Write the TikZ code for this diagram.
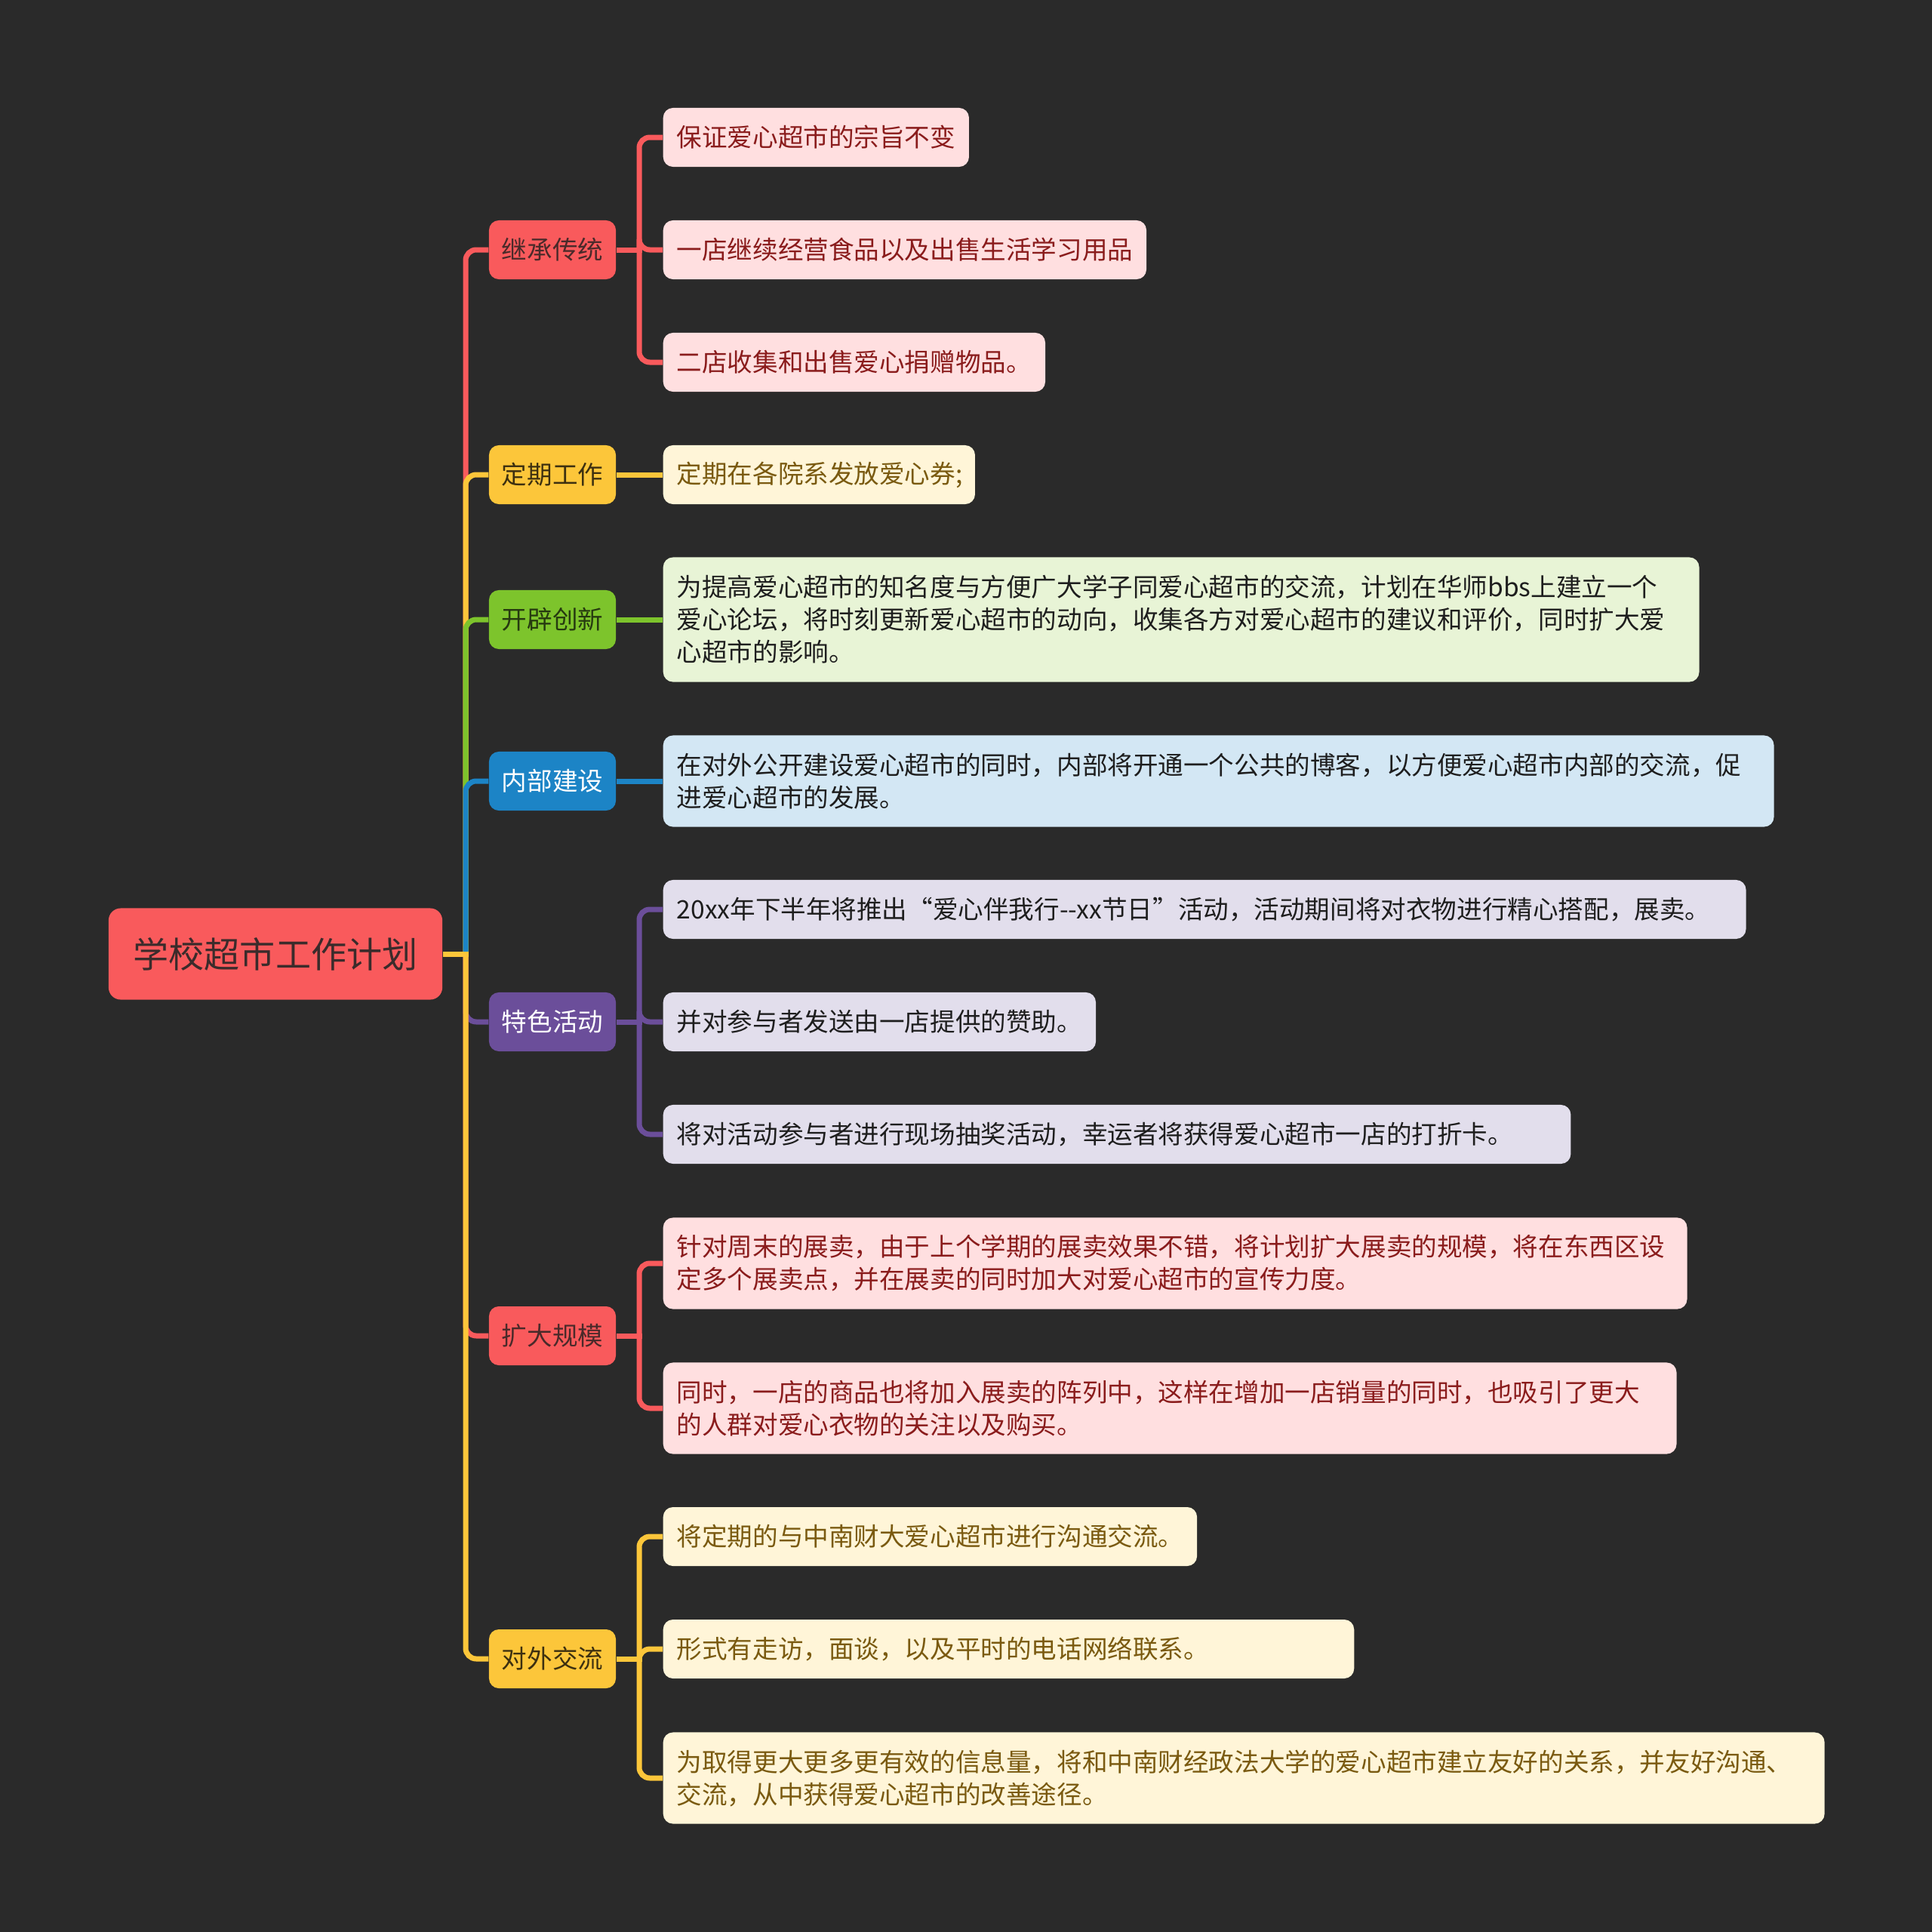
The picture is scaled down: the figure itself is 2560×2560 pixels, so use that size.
\documentclass[tikz,border=0pt]{standalone}
\usepackage{fontspec}
\newfontfamily\cjk{Noto Sans CJK SC}
\definecolor{bgc}{HTML}{2A2A2A}
\definecolor{cRed}{HTML}{F95A5C}
\definecolor{cYel}{HTML}{FCC63A}
\definecolor{cGrn}{HTML}{7DC42C}
\definecolor{cBlu}{HTML}{1C84C6}
\definecolor{cPur}{HTML}{6B4E9A}
\definecolor{fPink}{HTML}{FFDFE0}
\definecolor{fYel}{HTML}{FFF5D8}
\definecolor{fGrn}{HTML}{E8F4D6}
\definecolor{fBlu}{HTML}{D3E7F4}
\definecolor{fPur}{HTML}{E2DEEC}
\definecolor{tRed}{HTML}{8A1C1C}
\definecolor{tYel}{HTML}{7A5A10}
\definecolor{tDark}{HTML}{1E1E1E}
\definecolor{tRoot}{HTML}{3B2B2B}
\definecolor{tL1Red}{HTML}{4A2A2A}
\definecolor{tL1Yel}{HTML}{3D3010}
\definecolor{tL1Grn}{HTML}{263A10}
\begin{document}
\begin{tikzpicture}[x=0.01cm,y=-0.01cm,
  rootbox/.style={fill=cRed, rounded corners=0.16cm, minimum width=4.42cm, minimum height=1.21cm, inner sep=0pt, text=tRoot, font=\cjk\fontsize{13.4pt}{16pt}\selectfont},
  lone/.style={rounded corners=0.13cm, minimum width=1.68cm, minimum height=0.78cm, inner sep=0pt, font=\cjk\fontsize{9.55pt}{12.23pt}\selectfont},
  ltwo/.style={rounded corners=0.13cm, anchor=west, inner xsep=0.18cm, inner ysep=0pt, align=left, font=\cjk\fontsize{9.55pt}{12.23pt}\selectfont},
  oneln/.style={minimum height=0.78cm},
  twoln/.style={minimum height=1.21cm},
  threeln/.style={minimum height=1.65cm},
  conn/.style={line width=0.07cm},
  elbow/.style={line width=0.07cm, rounded corners=0.14cm}
]
\fill[bgc] (0,0) rectangle (2560,2560);

% root
\node[rootbox] (root) at (365,1264) {学校超市工作计划};
\coordinate (trunk) at (617,1264);

% level 1
\node[lone, fill=cRed, text=tL1Red] (a1) at (732,331) {继承传统};
\node[lone, fill=cYel, text=tL1Yel] (a2) at (732,629) {定期工作};
\node[lone, fill=cGrn, text=tL1Grn] (a3) at (732,821) {开辟创新};
\node[lone, fill=cBlu, text=white] (a4) at (732,1035) {内部建设};
\node[lone, fill=cPur, text=white] (a5) at (732,1354) {特色活动};
\node[lone, fill=cRed, text=tL1Red] (a6) at (732,1770) {扩大规模};
\node[lone, fill=cYel, text=tL1Yel] (a7) at (732,2198) {对外交流};

\coordinate (h1) at (847,331);
\coordinate (h2) at (847,629);
\coordinate (h3) at (847,821);
\coordinate (h4) at (847,1035);
\coordinate (h5) at (847,1354);
\coordinate (h6) at (847,1770);
\coordinate (h7) at (847,2198);

% level 2
\node[ltwo, oneln, fill=fPink, text=tRed, minimum width=4.05cm, text width=3.69cm] (c11) at (878,182) {保证爱心超市的宗旨不变};
\node[ltwo, oneln, fill=fPink, text=tRed, minimum width=6.40cm, text width=6.04cm] (c12) at (878,331) {一店继续经营食品以及出售生活学习用品};
\node[ltwo, oneln, fill=fPink, text=tRed, minimum width=5.06cm, text width=4.70cm] (c13) at (878,480) {二店收集和出售爱心捐赠物品。};

\node[ltwo, oneln, fill=fYel, text=tYel, minimum width=4.13cm, text width=3.77cm] (c21) at (878,629) {定期在各院系发放爱心券;};

\node[ltwo, threeln, fill=fGrn, text=tDark, minimum width=13.72cm, text width=13.36cm] (c31) at (878,821) {为提高爱心超市的知名度与方便广大学子同爱心超市的交流，计划在华师bbs上建立一个\\爱心论坛，将时刻更新爱心超市的动向，收集各方对爱心超市的建议和评价，同时扩大爱\\心超市的影响。};

\node[ltwo, twoln, fill=fBlu, text=tDark, minimum width=14.71cm, text width=14.35cm] (c41) at (878,1035) {在对外公开建设爱心超市的同时，内部将开通一个公共的博客，以方便爱心超市内部的交流，促\\进爱心超市的发展。};

\node[ltwo, oneln, fill=fPur, text=tDark, minimum width=14.34cm, text width=13.98cm] (c51) at (878,1205) {20xx年下半年将推出“爱心伴我行-\kern0pt-xx节日”活动，活动期间将对衣物进行精心搭配，展卖。};
\node[ltwo, oneln, fill=fPur, text=tDark, minimum width=5.73cm, text width=5.37cm] (c52) at (878,1354) {并对参与者发送由一店提供的赞助。};
\node[ltwo, oneln, fill=fPur, text=tDark, minimum width=12.02cm, text width=11.66cm] (c53) at (878,1503) {将对活动参与者进行现场抽奖活动，幸运者将获得爱心超市一店的打折卡。};

\node[ltwo, twoln, fill=fPink, text=tRed, minimum width=13.56cm, text width=13.20cm] (c61) at (878,1674) {针对周末的展卖，由于上个学期的展卖效果不错，将计划扩大展卖的规模，将在东西区设\\定多个展卖点，并在展卖的同时加大对爱心超市的宣传力度。};
\node[ltwo, twoln, fill=fPink, text=tRed, minimum width=13.42cm, text width=13.06cm] (c62) at (878,1866) {同时，一店的商品也将加入展卖的阵列中，这样在增加一店销量的同时，也吸引了更大\\的人群对爱心衣物的关注以及购买。};

\node[ltwo, oneln, fill=fYel, text=tYel, minimum width=7.07cm, text width=6.71cm] (c71) at (878,2036) {将定期的与中南财大爱心超市进行沟通交流。};
\node[ltwo, oneln, fill=fYel, text=tYel, minimum width=9.15cm, text width=8.79cm] (c72) at (878,2185) {形式有走访，面谈，以及平时的电话网络联系。};
\node[ltwo, twoln, fill=fYel, text=tYel, minimum width=15.38cm, text width=15.02cm] (c73) at (878,2356) {为取得更大更多更有效的信息量，将和中南财经政法大学的爱心超市建立友好的关系，并友好沟通、\\交流，从中获得爱心超市的改善途径。};

% root to level 1
\draw[elbow, cRed] (trunk) |- (a1.west);
\draw[elbow, cYel] (trunk) |- (a2.west);
\draw[elbow, cGrn] (trunk) |- (a3.west);
\draw[elbow, cBlu] (trunk) |- (a4.west);
\draw[elbow, cPur] (trunk) |- (a5.west);
\draw[elbow, cRed] (trunk) |- (a6.west);
\draw[elbow, cYel] (trunk) |- (a7.west);
\draw[conn, cYel] (root.east) -- ([xshift=0.035cm]trunk);

% level 1 to level 2
\draw[conn, cRed] (a1.east) -- ([xshift=0.035cm]h1);
\draw[elbow, cRed] (h1) |- (c11.west);
\draw[elbow, cRed] (h1) |- (c12.west);
\draw[elbow, cRed] (h1) |- (c13.west);

\draw[conn, cYel] (a2.east) -- (h2) -- (c21.west);
\draw[conn, cGrn] (a3.east) -- (h3) -- (c31.west);
\draw[conn, cBlu] (a4.east) -- (h4) -- (c41.west);

\draw[conn, cPur] (a5.east) -- ([xshift=0.035cm]h5);
\draw[elbow, cPur] (h5) |- (c51.west);
\draw[elbow, cPur] (h5) |- (c52.west);
\draw[elbow, cPur] (h5) |- (c53.west);

\draw[conn, cRed] (a6.east) -- ([xshift=0.035cm]h6);
\draw[elbow, cRed] (h6) |- (c61.west);
\draw[elbow, cRed] (h6) |- (c62.west);

\draw[conn, cYel] (a7.east) -- ([xshift=0.035cm]h7);
\draw[elbow, cYel] (h7) |- (c71.west);
\draw[elbow, cYel] (h7) |- (c72.west);
\draw[elbow, cYel] (h7) |- (c73.west);
\end{tikzpicture}
\end{document}
